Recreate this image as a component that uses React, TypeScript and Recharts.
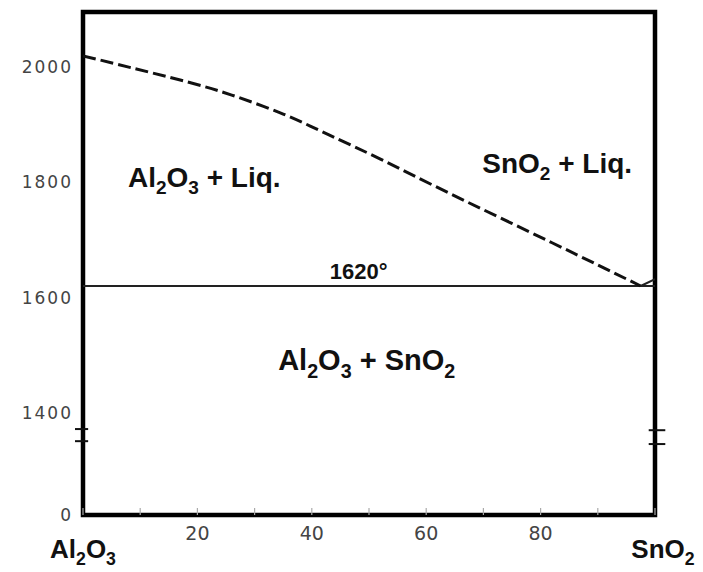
import { LineChart, Line, XAxis, YAxis, ReferenceLine, ReferenceArea, ReferenceDot } from 'recharts'

// liquidus on the Al2O3 side (dashed): wt% SnO2 vs °C
const liquidusAl2O3 = [
  { x: 0, t: 2019 },
  { x: 17, t: 1977 },
  { x: 26, t: 1951 },
  { x: 35, t: 1918 },
  { x: 43, t: 1882 },
  { x: 52, t: 1840 },
  { x: 64, t: 1781 },
  { x: 82, t: 1695 },
  { x: 97.5, t: 1620 },
]
// short liquidus on the SnO2 side
const liquidusSnO2 = [
  { x: 97.5, t: 1620 },
  { x: 100, t: 1632 },
]
const eutecticT = 1620

const xTicks = [0, 10, 20, 30, 40, 50, 60, 70, 80, 90, 100]
const xTickLabels = ['Al2O3', '', '20', '', '40', '', '60', '', '80', '', 'SnO2']
const yTicks = [1223, 1400, 1600, 1800, 2000]
const yTickLabels = ['0', '1400', '1600', '1800', '2000']
const yDomain = [1223, 2095]

// axis break marks (broken temperature axis)
const breakLeft = [1372, 1351]
const breakRight = [1370, 1346]

type Part = [string, boolean]
const phaseLabels: { x: number; t: number; size: number; parts: Part[] }[] = [
  { x: 21.2, t: 1792, size: 28, parts: [['Al', false], ['2', true], ['O', false], ['3', true], [' + Liq.', false]] },
  { x: 82.9, t: 1816, size: 28, parts: [['SnO', false], ['2', true], [' + Liq.', false]] },
  { x: 49.6, t: 1474, size: 29, parts: [['Al', false], ['2', true], ['O', false], ['3', true], [' + SnO', false], ['2', true]] },
  { x: 48.2, t: 1632, size: 22, parts: [['1620°', false]] },
]

const FONT = '"Liberation Sans", Arial, sans-serif'

const formula = (s: string): Part[] => {
  const out: Part[] = []
  for (const ch of s) {
    const sub = /[0-9]/.test(ch)
    const last = out[out.length - 1]
    if (last && last[1] === sub) last[0] += ch
    else out.push([ch, sub])
  }
  return out
}

const RichText = ({ x, y, size, parts, dx = 0 }: { x: number; y: number; size: number; parts: Part[]; dx?: number }) => {
  const shift = Math.round(size * 0.26)
  let prevSub = false
  return (
    <text x={x + dx} y={y} textAnchor="middle" fontFamily={FONT} fontWeight="bold" fontSize={size} fill="#111">
      {parts.map(([s, sub], i) => {
        const dy = sub && !prevSub ? shift : !sub && prevSub ? -shift : 0
        prevSub = sub
        return (
          <tspan key={i} dy={dy} fontSize={sub ? size * 0.68 : size}>
            {s}
          </tspan>
        )
      })}
    </text>
  )
}

const XTick = (props: any) => {
  const { x, y, payload, index } = props
  const label = xTickLabels[index]
  if (!label) return <g />
  if (payload.value === 0 || payload.value === 100) {
    return <RichText x={x} y={y + 43} size={26} parts={formula(label)} dx={payload.value === 100 ? 8 : 0} />
  }
  return (
    <text x={x} y={y + 25} textAnchor="middle" fontFamily='"DejaVu Sans", sans-serif' fontSize={19} fill="#444">
      {label}
    </text>
  )
}

const YTick = (props: any) => {
  const { x, y, index } = props
  return (
    <text x={x} y={y + 6} textAnchor="end" fontFamily='"DejaVu Sans", sans-serif' fontSize={17} letterSpacing={2} fill="#444">
      {yTickLabels[index]}
    </text>
  )
}

export default function App() {
  return (
    <div style={{ position: 'absolute', left: 0, top: 0, background: '#fff' }}>
      <LineChart width={703} height={572} margin={{ top: 12, right: 48, bottom: 0, left: 0 }}>
        <XAxis
          type="number"
          dataKey="x"
          domain={[0, 100]}
          ticks={xTicks}
          allowDataOverflow
          axisLine={false}
          tickLine={{ stroke: '#aaa', strokeWidth: 1.2 }}
          tickSize={-7}
          tickMargin={7}
          height={57}
          interval={0}
          tick={<XTick />}
        />
        <YAxis
          type="number"
          dataKey="t"
          domain={yDomain}
          ticks={yTicks}
          allowDataOverflow
          axisLine={false}
          tickLine={false}
          tickSize={0}
          tickMargin={10}
          width={83}
          interval={0}
          tick={<YTick />}
        />
        <ReferenceLine y={eutecticT} stroke="#222" strokeWidth={2} />
        <Line
          data={liquidusAl2O3}
          dataKey="t"
          type="natural"
          stroke="#111"
          strokeWidth={3}
          strokeDasharray="13 5"
          dot={false}
          isAnimationActive={false}
        />
        <Line
          data={liquidusSnO2}
          dataKey="t"
          type="linear"
          stroke="#222"
          strokeWidth={2}
          dot={false}
          isAnimationActive={false}
        />
        <ReferenceArea x1={0} x2={100} y1={yDomain[0]} y2={yDomain[1]} fill="none" stroke="#000" strokeWidth={4.5} />
        {breakLeft.map((t) => (
          <ReferenceLine key={'l' + t} segment={[{ x: -1.4, y: t }, { x: 0.9, y: t }]} stroke="#111" strokeWidth={2} ifOverflow="visible" />
        ))}
        {breakRight.map((t) => (
          <ReferenceLine key={'r' + t} segment={[{ x: 98.9, y: t }, { x: 101.8, y: t }]} stroke="#111" strokeWidth={2} ifOverflow="visible" />
        ))}
        {phaseLabels.map((p, i) => (
          <ReferenceDot
            key={i}
            x={p.x}
            y={p.t}
            r={1}
            shape={(s: any) => <RichText x={s.cx} y={s.cy} size={p.size} parts={p.parts} />}
          />
        ))}
      </LineChart>
    </div>
  )
}
